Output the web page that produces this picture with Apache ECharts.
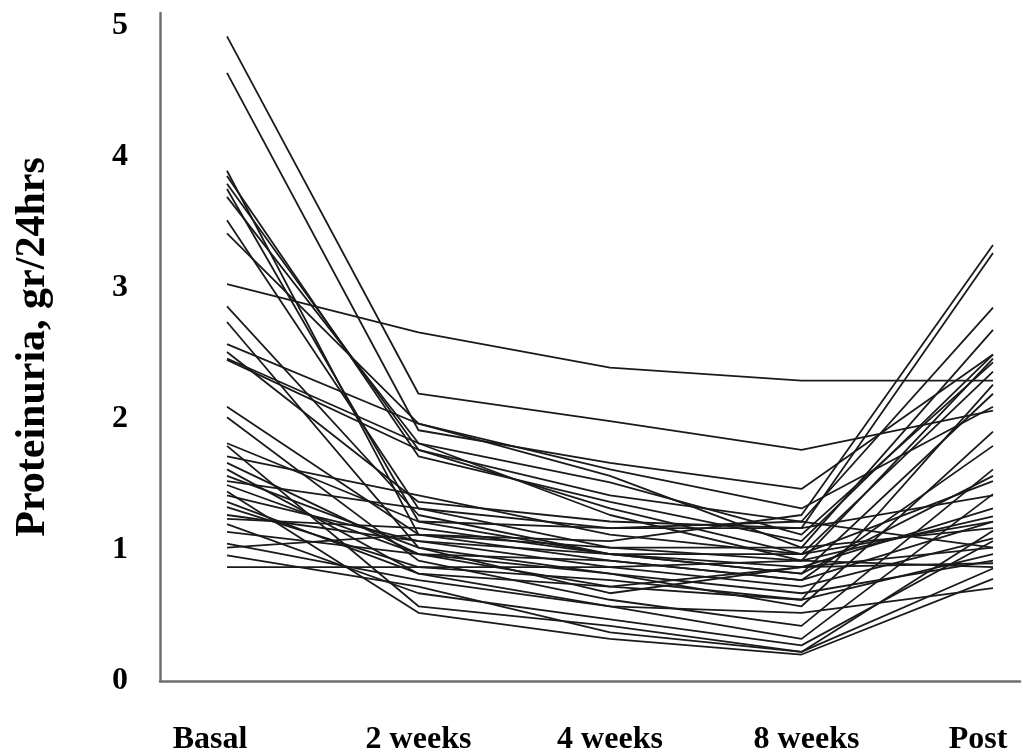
<!DOCTYPE html>
<html>
<head>
<meta charset="utf-8">
<script src="https://cdn.jsdelivr.net/npm/echarts@6/dist/echarts.min.js"></script>
<style>
    html, body { margin: 0; padding: 0; background: #fff; }
    #chart { width: 1023px; height: 756px; }
</style>
</head>
<body>
<div id="chart"></div>
<script>
// time points
var categories = ['Basal', '2 weeks', '4 weeks', '8 weeks', 'Post'];
var yTicks = [0, 1, 2, 3, 4, 5];

// proteinuria (gr/24hrs) per patient, one array per time point
var basal = [4.92, 4.64, 3.89, 3.79, 3.69, 3.51, 3.41, 3.02, 2.85, 2.73, 2.56, 2.44, 2.08, 2.00, 1.78, 1.70, 1.60,
    1.51, 1.43, 1.40, 1.31, 1.22, 1.12, 1.03, 0.94, 0.85, 3.85, 3.75, 1.55, 1.65, 1.18, 2.50, 1.00, 1.80,
    1.25, 1.48, 2.45, 1.35];
var week2 = [2.18, 1.90, 1.10, 1.75, 1.80, 1.30, 1.95, 2.65, 1.25, 1.00, 1.95, 1.75, 1.10, 0.90, 0.55, 1.40, 0.80,
    1.30, 0.50, 1.05, 0.85, 1.15, 0.95, 0.75, 0.70, 0.85, 1.70, 1.20, 1.00, 0.95, 0.65, 1.35, 1.10, 1.20,
    1.05, 0.95, 1.80, 0.80];
var week4 = [1.97, 1.65, 1.05, 1.40, 1.50, 1.15, 1.55, 2.38, 0.95, 0.80, 1.60, 1.30, 0.90, 0.60, 0.40, 1.10, 0.55,
    1.00, 0.30, 0.85, 0.75, 0.95, 0.80, 0.55, 0.35, 0.85, 1.35, 0.95, 0.65, 0.70, 0.45, 1.20, 1.00, 1.15,
    0.95, 0.90, 1.25, 0.70];
var week8 = [1.75, 1.45, 1.25, 1.20, 1.10, 1.15, 1.00, 2.28, 0.80, 0.55, 1.30, 0.95, 0.75, 0.40, 0.20, 0.95, 0.30,
    0.90, 0.18, 0.70, 0.60, 0.85, 0.65, 0.50, 0.20, 0.90, 1.05, 0.95, 0.85, 0.60, 0.25, 1.15, 1.00, 1.20,
    0.80, 0.75, 0.90, 0.85];
var post = [2.05, 2.48, 3.32, 2.84, 2.42, 3.26, 2.67, 2.28, 2.18, 1.89, 2.08, 2.35, 1.78, 1.60, 1.13, 1.51, 1.41,
    1.24, 0.76, 1.07, 0.95, 1.00, 0.90, 0.69, 0.84, 0.85, 2.48, 1.20, 1.30, 2.25, 1.05, 1.40, 1.15, 1.00,
    1.55, 1.20, 2.45, 0.88];

var chart = echarts.init(document.getElementById('chart'));

var series = basal.map(function (v, i) {
    return {
        type: 'line',
        xAxisIndex: 1,
        yAxisIndex: 1,
        symbol: 'none',
        silent: true,
        lineStyle: {color: '#1a1a1a', width: 1.8},
        data: [v, week2[i], week4[i], week8[i], post[i]]
    };
});

var fontFamily = '"Liberation Serif", "Times New Roman", serif';

// end labels sit a little inward of their points
var catData = categories.map(function (c, i) {
    if (i === 0) return {value: c, textStyle: {padding: [0, 34, 0, 0]}};
    if (i === categories.length - 1) return {value: c, textStyle: {padding: [0, 30, 0, 0]}};
    if (i === 3) return {value: c, textStyle: {padding: [0, 0, 0, 10]}};
    return c;
});

var option = {
    animation: false,
    backgroundColor: '#fff',
    grid: [
        // frame: axis lines, y labels
        {left: 160, right: 3, top: 13, bottom: 75},
        // data area
        {left: 227, right: 30, top: 26, bottom: 75}
    ],
    xAxis: [{
        gridIndex: 0,
        type: 'value',
        min: 0,
        max: 1,
        axisLine: {show: true, lineStyle: {color: '#6e6e6e', width: 2.5}},
        axisTick: {show: false},
        axisLabel: {show: false},
        splitLine: {show: false}
    }, {
        gridIndex: 1,
        type: 'category',
        boundaryGap: false,
        data: catData,
        axisLine: {show: false},
        axisTick: {show: false},
        splitLine: {show: false},
        axisLabel: {
            margin: 46,
            color: '#000',
            fontFamily: fontFamily,
            fontWeight: 'bold',
            fontSize: 32
        }
    }],
    yAxis: [{
        gridIndex: 0,
        type: 'value',
        min: 0,
        max: 5.1,
        interval: 1,
        name: 'Proteinuria, gr/24hrs',
        nameLocation: 'middle',
        nameGap: 106,
        nameTextStyle: {
            color: '#000',
            fontFamily: fontFamily,
            fontWeight: 'bold',
            fontSize: 42
        },
        axisLine: {show: true, lineStyle: {color: '#6e6e6e', width: 2.5}},
        axisTick: {show: false},
        splitLine: {show: false},
        axisLabel: {
            margin: 32,
            color: '#000',
            fontFamily: fontFamily,
            fontWeight: 'bold',
            fontSize: 32,
            showMaxLabel: false,
            formatter: function (v) {
                return yTicks.indexOf(v) >= 0 ? String(v) : '';
            }
        }
    }, {
        gridIndex: 1,
        type: 'value',
        min: 0,
        max: 5,
        show: false
    }],
    series: series
};

chart.setOption(option);
</script>
</body>
</html>
